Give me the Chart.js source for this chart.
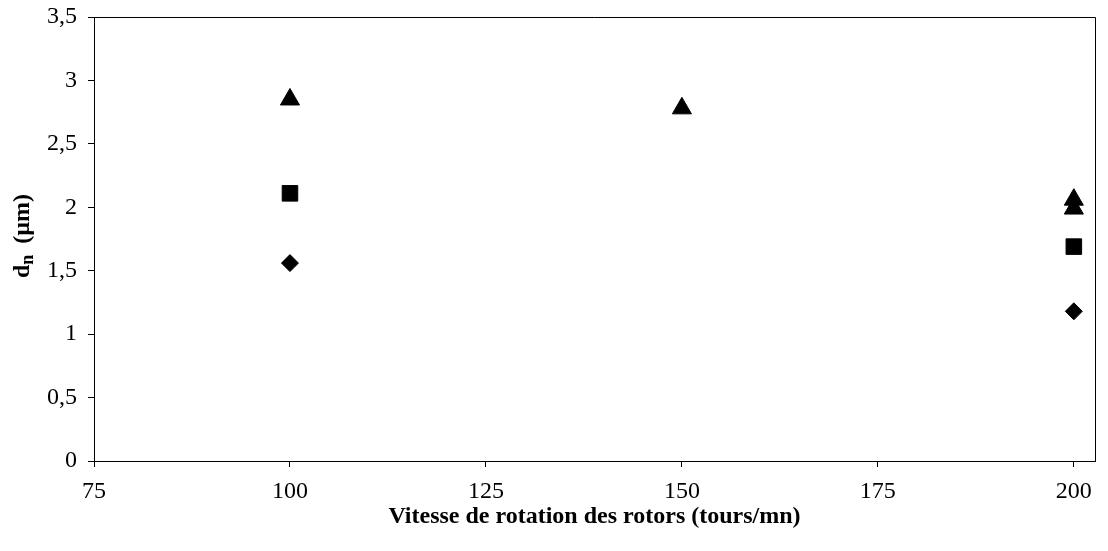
<!DOCTYPE html>
<html>
<head>
<meta charset="utf-8">
<script src="https://cdn.jsdelivr.net/npm/chart.js@4"></script>
<style>
html,body{margin:0;padding:0;background:#fff;}
#wrap{width:1108px;height:551px;position:relative;}
</style>
</head>
<body>
<div id="wrap"><canvas id="c" width="1108" height="551"></canvas></div>
<script>
// Data
const xTickValues = [75, 100, 125, 150, 175, 200];
const yTickValues = [0, 0.5, 1, 1.5, 2, 2.5, 3, 3.5];
const diamondX = [100, 200];
const diamondY = [1.56, 1.18];
const squareX = [100, 200];
const squareY = [2.11, 1.69];
const triangleX = [100, 150, 200, 200];
const triangleY = [2.85, 2.78, 2.06, 1.99];
const xTitle = 'Vitesse de rotation des rotors (tours/mn)';
const yTitleMain = 'd';
const yTitleSub = 'n';
const yTitleRest = ' (\u00b5m)';

function pts(xs, ys) { return xs.map((x, i) => ({ x: x, y: ys[i] })); }

const frame = {
  id: 'frame',
  afterDraw(chart) {
    const { ctx, chartArea: a } = chart;
    ctx.save();
    ctx.strokeStyle = '#000';
    ctx.lineWidth = 1;
    ctx.beginPath();
    ctx.moveTo(a.left, a.top + 0.5);
    ctx.lineTo(a.right + 0.5, a.top + 0.5);
    ctx.lineTo(a.right + 0.5, a.bottom);
    ctx.stroke();
    // y title with subscript
    ctx.fillStyle = '#000';
    ctx.translate(22, 236);
    ctx.rotate(-Math.PI / 2);
    const big = 'bold 24px "Liberation Serif"';
    const small = 'bold 18px "Liberation Serif"';
    const gap = 5;
    ctx.font = big;
    const w1 = ctx.measureText(yTitleMain).width;
    const w3 = ctx.measureText(yTitleRest).width;
    ctx.font = small;
    const w2 = ctx.measureText(yTitleSub).width;
    let x = -(w1 + w2 + gap + w3) / 2;
    ctx.textBaseline = 'alphabetic';
    ctx.textAlign = 'left';
    ctx.font = big;
    ctx.fillText(yTitleMain, x, 7);
    x += w1;
    ctx.font = small;
    ctx.fillText(yTitleSub, x, 11);
    x += w2 + gap;
    ctx.font = big;
    ctx.fillText(yTitleRest, x, 7);
    ctx.restore();
  }
};

new Chart(document.getElementById('c'), {
  type: 'scatter',
  data: {
    datasets: [
      { label: 'diamond', data: pts(diamondX, diamondY), pointStyle: 'rectRot', pointRadius: 8.5, backgroundColor: '#000', borderColor: '#000', borderWidth: 1 },
      { label: 'square', data: pts(squareX, squareY), pointStyle: 'rect', pointRadius: 11, backgroundColor: '#000', borderColor: '#000', borderWidth: 1 },
      { label: 'triangle', data: pts(triangleX, triangleY), pointStyle: 'triangle', pointRadius: 11, backgroundColor: '#000', borderColor: '#000', borderWidth: 1 }
    ]
  },
  options: {
    responsive: false,
    animation: false,
    events: [],
    layout: { padding: { left: 0, right: 13, top: 17, bottom: 0 } },
    plugins: { legend: { display: false }, tooltip: { enabled: false } },
    scales: {
      x: {
        type: 'linear',
        min: 75,
        max: 202.7,
        afterBuildTicks(s) { s.ticks = xTickValues.map(v => ({ value: v })); },
        afterFit(s) { s.height = 90; s.paddingLeft = 0; s.paddingRight = 0; },
        grid: { drawOnChartArea: false, tickLength: 6, color: '#000', tickColor: '#000' },
        border: { color: '#000', width: 1 },
        ticks: { color: '#000', font: { family: 'Liberation Serif', size: 24 }, padding: 10, maxRotation: 0 },
        title: { display: true, text: xTitle, color: '#000', font: { family: 'Liberation Serif', size: 24, weight: 'bold' }, padding: { top: 0, bottom: 20 } }
      },
      y: {
        min: 0,
        max: 3.5,
        afterBuildTicks(s) { s.ticks = yTickValues.map(v => ({ value: v })); },
        afterFit(s) { s.width = 94; s.paddingTop = 0; s.paddingBottom = 0; },
        grid: { drawOnChartArea: false, tickLength: 6, color: '#000', tickColor: '#000' },
        border: { color: '#000', width: 1 },
        ticks: { color: '#000', font: { family: 'Liberation Serif', size: 24 }, padding: 11, callback: v => String(v).replace('.', ',') }
      }
    }
  },
  plugins: [frame]
});
</script>
</body>
</html>
